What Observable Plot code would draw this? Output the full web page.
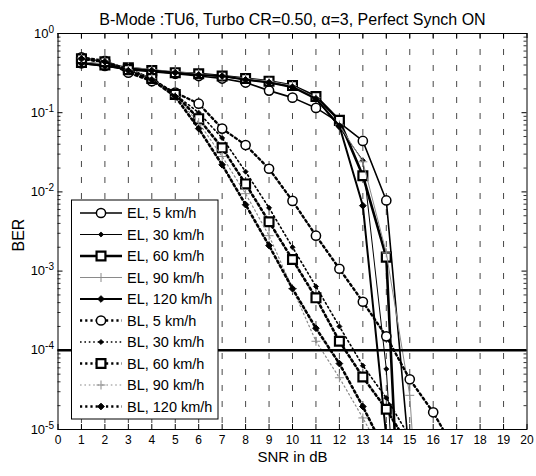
<!DOCTYPE html>
<html>
<head>
<meta charset="utf-8">
<script src="https://cdn.jsdelivr.net/npm/d3@7"></script>
<script src="https://cdn.jsdelivr.net/npm/@observablehq/plot@0.6"></script>
<style>
  html, body { margin: 0; padding: 0; background: #fff; }
  svg { font-family: "Liberation Sans", Arial, Helvetica, sans-serif; display: block; }
</style>
</head>
<body>
<div id="chart"></div>
<script>
// ---------- data (BER vs SNR, SNR starts at 1 dB, step 1 dB) ----------
const titleText = "B-Mode :TU6, Turbo CR=0.50, \u03b1=3, Perfect Synch ON";
const xLabel = "SNR in dB";
const yLabel = "BER";
const xTicks = [0,1,2,3,4,5,6,7,8,9,10,11,12,13,14,15,16,17,18,19,20];
const gridX = [1,2,3,4,5,6,7,8,9,10,11,12,13,14,15,16,17,18,19];
const yMajor = [1, 1e-1, 1e-2, 1e-3, 1e-4, 1e-5];
const refBER = [1e-4];

const seriesNames = ["EL, 5 km/h","EL, 30 km/h","EL, 60 km/h","EL, 90 km/h","EL, 120 km/h",
                     "BL, 5 km/h","BL, 30 km/h","BL, 60 km/h","BL, 90 km/h","BL, 120 km/h"];

const EL5   = [0.42, 0.39, 0.35, 0.33, 0.31, 0.29, 0.27, 0.24, 0.19, 0.155, 0.115, 0.075, 0.044, 0.0078, 4e-6];
const EL30  = [0.42, 0.40, 0.37, 0.34, 0.32, 0.30, 0.29, 0.26, 0.24, 0.21, 0.15, 0.065, 0.025, 5.8e-5, 1e-9];
const EL60  = [0.43, 0.40, 0.37, 0.34, 0.32, 0.31, 0.29, 0.27, 0.25, 0.22, 0.16, 0.08, 0.016, 0.0015, 1e-9];
const EL90  = [0.44, 0.41, 0.38, 0.35, 0.33, 0.31, 0.29, 0.27, 0.25, 0.22, 0.155, 0.07, 0.024, 0.0017, 2.7e-5, 1e-9];
const EL120 = [0.42, 0.39, 0.36, 0.34, 0.32, 0.30, 0.29, 0.26, 0.24, 0.21, 0.15, 0.068, 0.0067, 8e-6];

const BL5   = [0.50, 0.45, 0.32, 0.25, 0.18, 0.13, 0.063, 0.039, 0.0196, 0.0077, 0.0028, 0.00107, 4.1e-4, 1.5e-4, 4.3e-5, 1.65e-5, 5e-6];
const BL30  = [0.49, 0.45, 0.35, 0.27, 0.17, 0.10, 0.048, 0.018, 0.0063, 0.0020, 6.4e-4, 2.0e-4, 6.4e-5, 2.5e-5, 8e-6];
const BL60  = [0.48, 0.44, 0.35, 0.27, 0.17, 0.084, 0.036, 0.0126, 0.0042, 0.0014, 4.6e-4, 1.3e-4, 4.6e-5, 1.8e-5, 6e-6];
const BL90  = [0.49, 0.45, 0.35, 0.27, 0.16, 0.075, 0.028, 0.0095, 0.0028, 6.0e-4, 1.3e-4, 4.5e-5, 1.4e-5, 4e-6];
const BL120 = [0.48, 0.44, 0.34, 0.26, 0.16, 0.063, 0.022, 0.0069, 0.0021, 6.0e-4, 1.9e-4, 6.8e-5, 1.95e-5, 5e-6];

const seriesValues = [EL5, EL30, EL60, EL90, EL120, BL5, BL30, BL60, BL90, BL120];

// ---------- styles ----------
const dotted = "2.2,3";
const styles = [
  {stroke:"#000", width:1.6, dash:null,   symbol:"circle",   r:4.6, fill:"#fff", mstroke:"#000", mwidth:1.5},
  {stroke:"#000", width:1.0, dash:null,   symbol:"diamond2", r:2.3, fill:"#000", mstroke:"#000", mwidth:0.8},
  {stroke:"#000", width:2.6, dash:null,   symbol:"square",   r:5.0, fill:"#fff", mstroke:"#000", mwidth:2.2},
  {stroke:"#8a8a8a", width:1.0, dash:null, symbol:"plus",    r:3.0, fill:"none", mstroke:"#8a8a8a", mwidth:1.0},
  {stroke:"#000", width:2.0, dash:null,   symbol:"diamond2", r:3.0, fill:"#000", mstroke:"#000", mwidth:1.0},
  {stroke:"#000", width:2.4, dash:dotted, symbol:"circle",   r:4.6, fill:"#fff", mstroke:"#000", mwidth:1.5},
  {stroke:"#000", width:1.6, dash:"1.6,2.8", symbol:"diamond2", r:2.3, fill:"#000", mstroke:"#000", mwidth:0.8},
  {stroke:"#000", width:2.6, dash:dotted, symbol:"square",   r:5.0, fill:"#fff", mstroke:"#000", mwidth:2.2},
  {stroke:"#8a8a8a", width:1.2, dash:"1.6,2.8", symbol:"plus", r:3.0, fill:"none", mstroke:"#8a8a8a", mwidth:1.0},
  {stroke:"#000", width:2.6, dash:dotted, symbol:"diamond2", r:3.0, fill:"#000", mstroke:"#000", mwidth:1.0}
];

const W = 536, H = 476;
const mT = 33, mR = 9.5, mB = 47, mL = 57.5;
const innerW = W - mL - mR, innerH = H - mT - mB;

const minorY = [];
for (let e = -5; e < 0; e++) for (let m = 2; m <= 9; m++) minorY.push(m * Math.pow(10, e));

const seriesMarks = [];
seriesValues.forEach((vals, k) => {
  const rows = vals.map((v, i) => ({x: i + 1, y: v}));
  const s = styles[k];
  seriesMarks.push(Plot.line(rows, {x:"x", y:"y", stroke:s.stroke, strokeWidth:s.width,
    strokeDasharray:s.dash, clip:true, strokeLinejoin:"round"}));
  seriesMarks.push(Plot.dot(rows, {x:"x", y:"y", symbol:s.symbol, r:s.r, fill:s.fill,
    stroke:s.mstroke, strokeWidth:s.mwidth, clip:true}));
});

const chart = Plot.plot({
  width: W, height: H,
  marginTop: mT, marginRight: mR, marginBottom: mB, marginLeft: mL,
  style: {fontFamily: '"Liberation Sans", Arial, sans-serif', fontSize: "12px", background: "#fff", color: "#000"},
  x: {domain: [0, 20]},
  y: {type: "log", domain: [1e-5, 1]},
  marks: [
    Plot.ruleX(gridX, {x: d => d, stroke: "#333", strokeWidth: 0.9, strokeDasharray: "6,10"}),
    ...seriesMarks,
    Plot.ruleY(refBER, {y: d => d, stroke: "#000", strokeWidth: 2.6}),
    Plot.frame({stroke: "#000", strokeWidth: 1}),
    Plot.tickX(xTicks, {x: d => d, insetTop: innerH - 5, stroke: "#000"}),
    Plot.tickX(xTicks, {x: d => d, insetBottom: innerH - 5, stroke: "#000"}),
    Plot.tickY(yMajor, {y: d => d, insetRight: innerW - 5, stroke: "#000"}),
    Plot.tickY(yMajor, {y: d => d, insetLeft: innerW - 5, stroke: "#000"}),
    Plot.tickY(minorY, {y: d => d, insetRight: innerW - 3, stroke: "#000", strokeWidth: 0.8}),
    Plot.tickY(minorY, {y: d => d, insetLeft: innerW - 3, stroke: "#000", strokeWidth: 0.8}),
    Plot.axisX({ticks: xTicks, tickSize: 0, tickPadding: 6, label: null, fontSize: 12, tickFormat: d => String(d)}),
    Plot.axisY({ticks: yMajor, tickSize: 0, tickPadding: 4, label: null, fontSize: 13,
      tickFormat: d => "10^" + Math.round(Math.log10(d))}),
    Plot.text([titleText], {text: d => d, frameAnchor: "top", dy: -20, fontSize: 16}),
    Plot.text([xLabel], {text: d => d, frameAnchor: "bottom", dy: 32, fontSize: 15}),
    Plot.text([yLabel], {text: d => d, frameAnchor: "left", dx: -39.5, dy: 20, rotate: -90, fontSize: 16})
  ]
});

document.getElementById("chart").append(chart);

// superscript exponents on y tick labels
d3.select(chart).selectAll('g[aria-label="y-axis tick label"] text').each(function() {
  const t = d3.select(this);
  const parts = t.text().split("^");
  if (parts.length === 2) {
    t.text(parts[0]);
    t.append("tspan").attr("dy", "-0.5em").attr("font-size", "10px").text(parts[1]);
  }
});

// legend (MATLAB-style box)
const symbolMap = {circle: d3.symbolCircle, square: d3.symbolSquare, diamond2: d3.symbolDiamond2, plus: d3.symbolPlus};
const lg = d3.select(chart).append("g").attr("class", "legend").attr("text-anchor", "start");
lg.append("rect").attr("x", 71.5).attr("y", 200).attr("width", 146.5).attr("height", 219)
  .attr("fill", "#fff").attr("stroke", "#000").attr("stroke-width", 1);
seriesNames.forEach((name, i) => {
  const s = styles[i];
  const y = 213 + 21.5 * i;
  lg.append("line").attr("x1", 80).attr("x2", 122).attr("y1", y).attr("y2", y)
    .attr("stroke", s.stroke).attr("stroke-width", s.width).attr("stroke-dasharray", s.dash);
  lg.append("path").attr("d", d3.symbol(symbolMap[s.symbol], Math.PI * s.r * s.r)())
    .attr("transform", `translate(101,${y})`).attr("fill", s.fill)
    .attr("stroke", s.mstroke).attr("stroke-width", s.mwidth);
  lg.append("text").attr("x", 127).attr("y", y).attr("dy", "0.35em").attr("text-anchor", "start")
    .attr("font-size", 14.5).attr("fill", "#000").text(name);
});
</script>
</body>
</html>
